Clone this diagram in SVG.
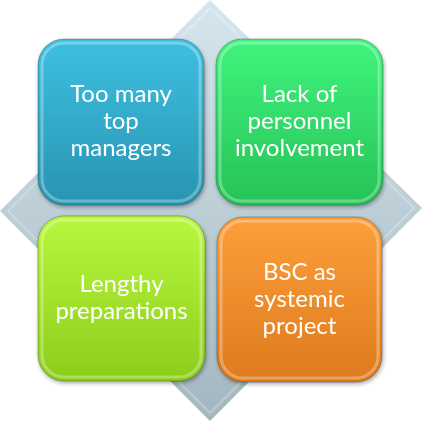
<svg xmlns="http://www.w3.org/2000/svg" width="426" height="422" viewBox="0 0 426 422">
<defs>
<linearGradient id="gDiamond" x1="0" y1="0" x2="0" y2="1">
<stop offset="0" stop-color="#d5e6ee"/>
<stop offset="1" stop-color="#a4b6bf"/>
</linearGradient>
<linearGradient id="gBlue" x1="0" y1="0" x2="0" y2="1">
<stop offset="0" stop-color="#3ec0e1"/>
<stop offset="1" stop-color="#2894b2"/>
</linearGradient>
<linearGradient id="gGreen" x1="0" y1="0" x2="0" y2="1">
<stop offset="0" stop-color="#3ff47c"/>
<stop offset="1" stop-color="#26c257"/>
</linearGradient>
<linearGradient id="gLime" x1="0" y1="0" x2="0" y2="1">
<stop offset="0" stop-color="#b9f73e"/>
<stop offset="1" stop-color="#8ccd1c"/>
</linearGradient>
<linearGradient id="gOrange" x1="0" y1="0" x2="0" y2="1">
<stop offset="0" stop-color="#fd9f3a"/>
<stop offset="1" stop-color="#df7a1e"/>
</linearGradient>
<filter id="shadow" x="-10%" y="-10%" width="130%" height="130%">
<feGaussianBlur in="SourceAlpha" stdDeviation="2"/>
<feOffset dx="1" dy="2" result="b"/>
<feComponentTransfer><feFuncA type="linear" slope="0.35"/></feComponentTransfer>
<feMerge><feMergeNode/><feMergeNode in="SourceGraphic"/></feMerge>
</filter>
</defs>
<style>
.box{stroke:#000;stroke-opacity:0.25;stroke-width:1}
.bevel{fill:none;stroke:#fff;stroke-opacity:0.3;stroke-width:3}
.lbl{font-family:Lato,"Open Sans","Liberation Sans",sans-serif;font-size:24px;fill:#fff;text-anchor:middle}
</style>
<g id="background">
<polygon points="210,0 422,208 210,421 0,211" fill="url(#gDiamond)"/>
<polygon points="210,8 414,208 210,413 8,211" fill="none" stroke="#fff" stroke-opacity="0.25" stroke-width="2"/>
</g>
<g id="connectors"></g>
<g id="node-top-managers" filter="url(#shadow)">
<rect class="box" x="38" y="39" width="166" height="166" rx="26" fill="url(#gBlue)"/>
<rect class="bevel" x="42" y="43" width="158" height="158" rx="22"/>
<text class="lbl" x="121" y="102">Too many</text>
<text class="lbl" x="121" y="129">top</text>
<text class="lbl" x="121" y="156">managers</text>
</g>
<g id="node-personnel" filter="url(#shadow)">
<rect class="box" x="216" y="39" width="167" height="166" rx="26" fill="url(#gGreen)"/>
<rect class="bevel" x="220" y="43" width="159" height="158" rx="22"/>
<text class="lbl" x="299.5" y="102">Lack of</text>
<text class="lbl" x="299.5" y="129">personnel</text>
<text class="lbl" x="299.5" y="156">involvement</text>
</g>
<g id="node-preparations" filter="url(#shadow)">
<rect class="box" x="38" y="216" width="167" height="165" rx="26" fill="url(#gLime)"/>
<rect class="bevel" x="42" y="220" width="159" height="157" rx="22"/>
<text class="lbl" x="121.5" y="292">Lengthy</text>
<text class="lbl" x="121.5" y="319">preparations</text>
</g>
<g id="node-bsc" filter="url(#shadow)">
<rect class="box" x="217" y="217" width="165" height="165" rx="26" fill="url(#gOrange)"/>
<rect class="bevel" x="221" y="221" width="157" height="157" rx="22"/>
<text class="lbl" x="299.5" y="280">BSC as</text>
<text class="lbl" x="299.5" y="307">systemic</text>
<text class="lbl" x="299.5" y="334">project</text>
</g>
</svg>
